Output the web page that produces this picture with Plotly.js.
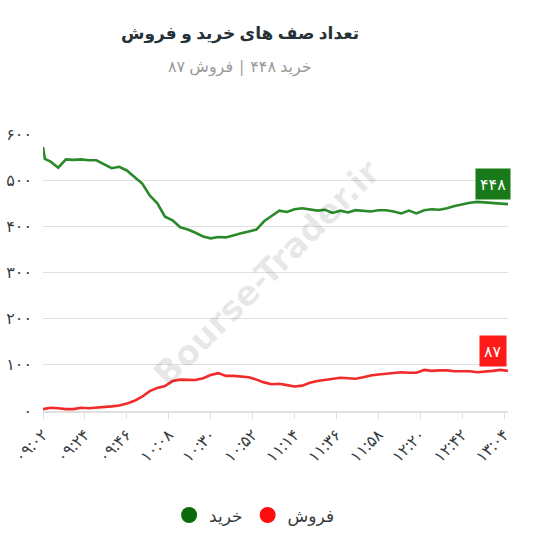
<!DOCTYPE html>
<html>
<head>
<meta charset="utf-8">
<script src="https://cdn.plot.ly/plotly-3.0.1.min.js"></script>
<style>html,body{margin:0;padding:0;background:#fff;}#chart{width:549px;height:545px;}</style>
</head>
<body>
<div id="chart"></div>
<script>
const times = ["09:02","09:03","09:06","09:10","09:14","09:18","09:22","09:26","09:30","09:34","09:38","09:42","09:46","09:50","09:54","09:58","10:02","10:06","10:10","10:14","10:18","10:22","10:26","10:30","10:34","10:38","10:42","10:46","10:50","10:54","10:58","11:02","11:06","11:10","11:14","11:18","11:22","11:26","11:30","11:34","11:38","11:42","11:46","11:50","11:54","11:58","12:02","12:06","12:10","12:14","12:18","12:22","12:26","12:30","12:34","12:38","12:42","12:46","12:50","12:54","12:58","13:02","13:06"];
const buyQueue = [572,546,540,527,545,544,545,543,543,534,526,529,521,507,493,467,450,421,413,398,393,386,378,374,377,376,381,385,389,393,411,423,434,431,437,439,437,434,436,429,434,430,435,433,432,435,435,432,428,434,428,435,437,436,439,444,448,451,453,452,451,450,448];
const sellQueue = [4,5,7,6,4,4,7,6,7,8,10,12,16,22,31,43,50,54,65,68,67,67,71,78,82,76,76,74,73,68,62,58,59,56,53,55,61,65,67,70,72,71,70,73,77,79,81,83,84,83,83,89,87,88,88,86,86,86,84,85,87,89,87];
const tickTimes = ["09:02","09:24","09:46","10:08","10:30","10:52","11:14","11:36","11:58","12:20","12:42","13:04"];
const yTicks = [0,100,200,300,400,500,600];
const seriesNames = ["خرید","فروش"];
const titleText = "تعداد صف های خرید و فروش";

const fa = s => String(s).replace(/[0-9]/g, d => "۰۱۲۳۴۵۶۷۸۹"[+d]);
const toMin = t => { const [h,m] = t.split(":").map(Number); return (h-9)*60 + m; };
const xs = times.map(toMin);
const lastBuy = buyQueue[buyQueue.length-1];
const lastSell = sellQueue[sellQueue.length-1];
const FONT = "Noto Sans, DejaVu Sans, sans-serif";

const traces = [
  {x: xs, y: buyQueue, mode: "lines", line: {color: "#2a8a2a", width: 2.6}, showlegend: false, name: seriesNames[0], hoverinfo: "skip"},
  {x: xs, y: sellQueue, mode: "lines", line: {color: "#f22a2a", width: 2.6}, showlegend: false, name: seriesNames[1], hoverinfo: "skip"},
  {x: [null], y: [null], mode: "markers", marker: {color: "#0b6b0b", size: 18}, name: seriesNames[0], showlegend: true},
  {x: [null], y: [null], mode: "markers", marker: {color: "#ff0d0d", size: 18}, name: seriesNames[1], showlegend: true}
];

const layout = {
  width: 549, height: 545,
  margin: {l: 43, r: 41, t: 134, b: 131},
  paper_bgcolor: "#fff", plot_bgcolor: "#fff",
  font: {family: FONT, color: "#373d3f"},
  xaxis: {
    type: "linear", range: [toMin("09:02"), toMin("13:06")],
    tickvals: tickTimes.map(toMin), ticktext: tickTimes.map(fa),
    tickangle: -45, tickfont: {size: 16, color: "#373d3f"},
    showgrid: false, zeroline: false,
    showline: true, linecolor: "#e0e0e0", linewidth: 2,
    ticks: "outside", ticklen: 6, tickcolor: "#e0e0e0"
  },
  yaxis: {
    range: [0, 600], tickvals: yTicks, ticktext: yTicks.map(fa),
    tickfont: {size: 16, color: "#373d3f"},
    showgrid: true, gridcolor: "#e0e0e0", gridwidth: 1,
    zeroline: false, showline: false, ticks: "", ticklabelstandoff: 10
  },
  showlegend: true,
  legend: {orientation: "h", x: 0.455, xanchor: "center", y: -0.377, yanchor: "middle",
           font: {size: 17, color: "#373d3f"}, itemsizing: "trace", traceorder: "normal"},
  annotations: [
    {text: "<b>" + titleText + "</b>", xref: "paper", yref: "paper", x: 0.423, y: 1, yshift: 102,
     showarrow: false, font: {size: 17, color: "#263238"}, yanchor: "middle"},
    {text: fa("خرید " + lastBuy + " | فروش " + lastSell), xref: "paper", yref: "paper", x: 0.423, y: 1, yshift: 68,
     showarrow: false, font: {size: 16, color: "#9a9a9a"}, yanchor: "middle"},
    {text: "<b>Bourse-Trader.ir</b>", xref: "paper", yref: "paper", x: 0.48, y: 0.5, showarrow: false,
     textangle: -45, font: {size: 34, color: "rgba(0,0,0,0.09)", family: "DejaVu Sans, sans-serif"}},
    {text: fa(lastBuy), x: xs[xs.length-1], y: lastBuy, xshift: -15, yshift: 4, yanchor: "bottom",
     showarrow: false, bgcolor: "#187a18", borderpad: 4, font: {size: 16, color: "#fff"}},
    {text: fa(lastSell), x: xs[xs.length-1], y: lastSell, xshift: -15, yshift: 4, yanchor: "bottom",
     showarrow: false, bgcolor: "#ff1a1a", borderpad: 4, font: {size: 16, color: "#fff"}}
  ]
};

Plotly.newPlot("chart", traces, layout, {displayModeBar: false, staticPlot: true});
</script>
</body>
</html>
